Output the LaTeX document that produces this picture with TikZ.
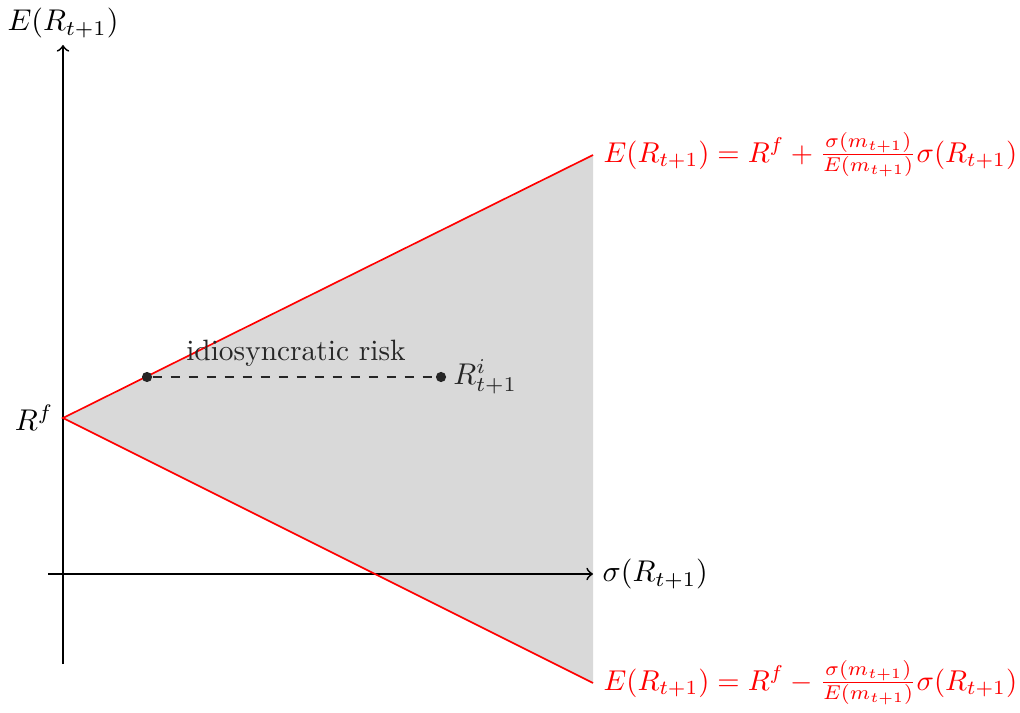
\documentclass[tikz,border=0pt]{standalone}
\usepackage{amsmath}
\tikzset{
  axis/.style={semithick,->},
  bound/.style={red,line width=0.55pt},
  dotpt/.style={circle,fill=black!85,inner sep=0pt,minimum size=3.4pt},
  redlab/.style={red,anchor=west,inner sep=3.5pt,scale=0.955},
}
\begin{document}
\begin{tikzpicture}[x=0.3333pt,y=-0.3333pt]
\useasboundingbox (0,0) rectangle (1020,713);
\coordinate (O) at (63,574);
\coordinate (Rf) at (63,418);
\coordinate (U) at (593,155);
\coordinate (L) at (593,683);
\coordinate (xl) at (48,574);
\coordinate (xr) at (593,574);
\coordinate (yb) at (63,664);
\coordinate (yt) at (63,45);
\fill[black!15] (Rf) -- (U) -- (L) -- cycle;
\draw[axis] (xl) -- (xr);
\draw[axis] (yb) -- (yt);
\draw[bound] (U) -- (Rf) -- (L);
\node[anchor=south,inner sep=2pt] (ylab) at (yt) {$E(R_{t+1})$};
\node[anchor=west,inner sep=3pt] (xlab) at (xr) {$\sigma(R_{t+1})$};
\node[anchor=east,inner sep=3pt] (rflab) at (Rf) {$R^f$};
\node[redlab] (ulab) at (U) {$E(R_{t+1}) = R^f + \frac{\sigma(m_{t+1})}{E(m_{t+1})}\sigma(R_{t+1})$};
\node[redlab] (llab) at (L) {$E(R_{t+1}) = R^f - \frac{\sigma(m_{t+1})}{E(m_{t+1})}\sigma(R_{t+1})$};
\node[dotpt] (p1) at (147,377) {};
\node[dotpt] (p2) at (441,377) {};
\draw[dashed,black!85,semithick] (p1) -- (p2);
\node[anchor=south,text=black!85,inner sep=2pt,scale=0.98] (idio) at (296,373) {idiosyncratic risk};
\node[anchor=west,text=black!85,inner sep=2pt] (rilab) at (p2.east) {$R^i_{t+1}$};
\end{tikzpicture}
\end{document}
